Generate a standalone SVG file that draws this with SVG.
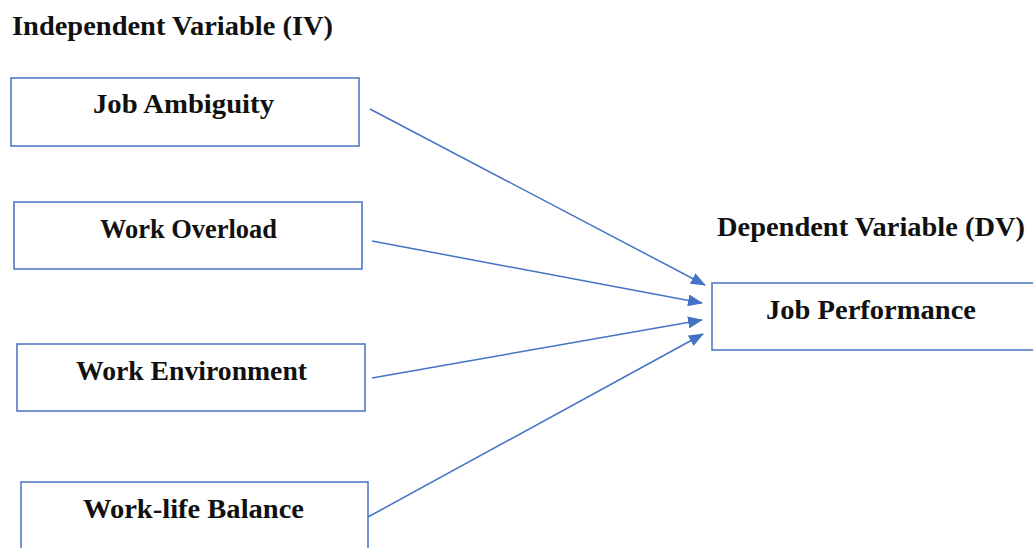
<svg xmlns="http://www.w3.org/2000/svg" width="1033" height="548" viewBox="0 0 1033 548">
<style>
.box{fill:#fff;stroke:#4472C4;stroke-width:1.5}
.t{font-family:"Liberation Serif","Times New Roman",serif;font-weight:bold;font-size:27px;fill:#111}
.ln{stroke:#4472C4;stroke-width:1.5;fill:none}
</style>
<defs>
<marker id="ah" markerWidth="15" markerHeight="12" refX="14" refY="6" orient="auto" markerUnits="userSpaceOnUse">
<path d="M0,0 L15,6 L0,12 Z" fill="#4472C4"/>
</marker>
</defs>
<rect width="1033" height="548" fill="#fff"/>
<text class="t" x="12" y="35" textLength="321" lengthAdjust="spacingAndGlyphs">Independent Variable (IV)</text>
<text class="t" x="717" y="236" textLength="308" lengthAdjust="spacingAndGlyphs">Dependent Variable (DV)</text>
<g id="n1"><rect class="box" x="11" y="78" width="348" height="68"/><text class="t" x="93" y="113" textLength="181" lengthAdjust="spacingAndGlyphs">Job Ambiguity</text></g>
<g id="n2"><rect class="box" x="14" y="202" width="348" height="67"/><text class="t" x="100" y="238" textLength="177" lengthAdjust="spacingAndGlyphs">Work Overload</text></g>
<g id="n3"><rect class="box" x="17" y="344" width="348" height="67"/><text class="t" x="76" y="380" textLength="231" lengthAdjust="spacingAndGlyphs">Work Environment</text></g>
<g id="n4"><rect class="box" x="21" y="482" width="347" height="80"/><text class="t" x="83" y="518" textLength="221" lengthAdjust="spacingAndGlyphs">Work-life Balance</text></g>
<g id="n5"><rect class="box" x="712" y="283" width="330" height="67"/><text class="t" x="766" y="319" textLength="210" lengthAdjust="spacingAndGlyphs">Job Performance</text></g>
<g id="connectors">
<line class="ln" x1="370" y1="109" x2="705" y2="285" marker-end="url(#ah)"/>
<line class="ln" x1="372" y1="241" x2="702" y2="303" marker-end="url(#ah)"/>
<line class="ln" x1="372" y1="378" x2="702" y2="320" marker-end="url(#ah)"/>
<line class="ln" x1="368" y1="517" x2="703" y2="334" marker-end="url(#ah)"/>
</g>
</svg>
